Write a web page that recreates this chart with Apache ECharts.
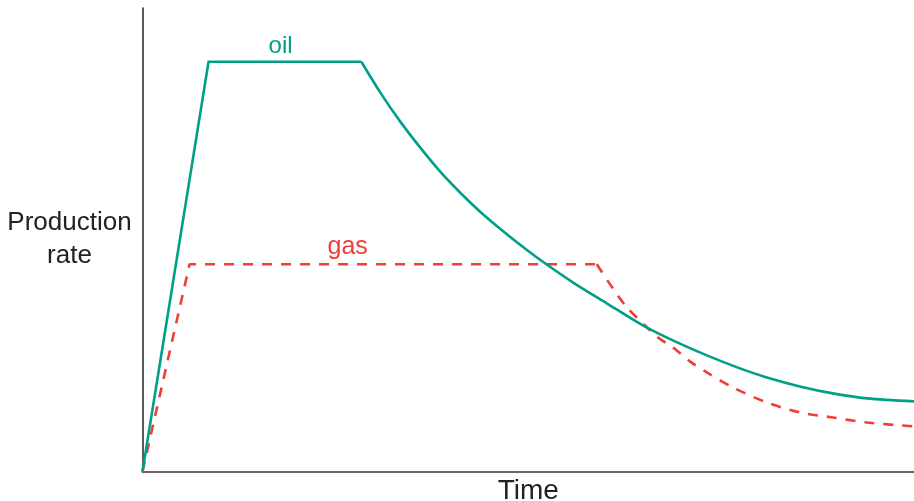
<!DOCTYPE html>
<html>
<head>
<meta charset="utf-8">
<script src="https://cdn.jsdelivr.net/npm/echarts@6/dist/echarts.min.js"></script>
<style>html,body{margin:0;padding:0;background:#fff}#c{width:914px;height:501px}</style>
</head>
<body>
<div id="c"></div>
<script>
// Time (0-100) and production rate (0-100)
// oil: ramp-up and plateau
const oilRiseTime = [0, 8.56, 28.37];
const oilRiseRate = [0, 88.4, 88.4];
// oil: decline
const oilDeclTime = [28.37, 30.87, 33.46, 36.06, 38.65, 41.25, 43.84, 46.43, 49.03, 51.62, 55.77, 60.18, 64.85, 68.74, 73.15, 77.43, 80.93, 85.21, 89.49, 93.90, 100];
const oilDeclRate = [88.4, 81.64, 75.38, 69.76, 64.58, 60.04, 55.94, 52.27, 48.81, 45.57, 40.82, 36.29, 31.53, 28.29, 25.05, 22.25, 20.30, 18.36, 16.85, 15.77, 15.12];
// gas: ramp-up and plateau
const gasRiseTime = [0, 6.10, 58.88];
const gasRiseRate = [0, 44.71, 44.71];
// gas: decline
const gasDeclTime = [58.88, 60.96, 62.78, 64.85, 66.80, 68.74, 70.95, 73.15, 76.52, 80.93, 85.21, 89.49, 93.90, 100];
const gasDeclRate = [44.71, 39.52, 35.42, 31.97, 28.94, 26.78, 23.76, 21.38, 18.14, 14.90, 12.74, 11.66, 10.58, 9.72];
const seriesNames = ['oil', 'gas'];
const labelAt = { oil: [17.9, 88.4], gas: [26.6, 44.71] };
const axisNames = { x: 'Time', y: 'Production\nrate' };

const OIL = '#00a088', GAS = '#ee3e36';
const zip = (a, b) => a.map((v, i) => [v, b[i]]);
const chart = echarts.init(document.getElementById('c'), null, { renderer: 'canvas' });
const font = 'Liberation Sans, Arial, sans-serif';
const oilStyle = { color: OIL, width: 2.6, join: 'miter' };
const gasStyle = { color: GAS, width: 2.6, type: [10, 9] };
chart.setOption({
  animation: false,
  grid: { left: 142.5, right: 0, top: 8, bottom: 29.5, containLabel: false, outerBoundsMode: 'none' },
  xAxis: {
    type: 'value', min: 0, max: 100,
    name: axisNames.x, nameLocation: 'middle', nameGap: 6,
    nameTextStyle: { fontSize: 28, color: '#222', fontFamily: font },
    axisLine: { show: true, lineStyle: { color: '#666', width: 2 } },
    axisTick: { show: false }, axisLabel: { show: false }, splitLine: { show: false }
  },
  yAxis: {
    type: 'value', min: 0, max: 100,
    name: axisNames.y, nameLocation: 'middle', nameRotate: 0, nameGap: 73,
    nameTextStyle: { fontSize: 26, color: '#222', fontFamily: font, align: 'center', lineHeight: 33, padding: [6, 0, 0, 0] },
    axisLine: { show: true, lineStyle: { color: '#222', width: 1.5 } },
    axisTick: { show: false }, axisLabel: { show: false }, splitLine: { show: false }
  },
  series: [
    { name: seriesNames[0], type: 'line', data: zip(oilRiseTime, oilRiseRate), symbol: 'none', lineStyle: oilStyle, z: 3 },
    { name: seriesNames[0], type: 'line', data: zip(oilDeclTime, oilDeclRate), symbol: 'none', smooth: 0.3, lineStyle: oilStyle, z: 3 },
    { name: seriesNames[1], type: 'line', data: zip(gasRiseTime, gasRiseRate), symbol: 'none', lineStyle: gasStyle, z: 2 },
    { name: seriesNames[1], type: 'line', data: zip(gasDeclTime, gasDeclRate), symbol: 'none', smooth: 0.3, lineStyle: gasStyle, z: 2 }
  ]
});
const po = chart.convertToPixel({ gridIndex: 0 }, labelAt.oil);
const pg = chart.convertToPixel({ gridIndex: 0 }, labelAt.gas);
chart.setOption({
  graphic: [
    { type: 'text', x: po[0], y: po[1] - 15, style: { text: seriesNames[0], fill: OIL, font: '24px ' + font, textAlign: 'center', textVerticalAlign: 'middle' } },
    { type: 'text', x: pg[0], y: pg[1] - 17, style: { text: seriesNames[1], fill: GAS, font: '25px ' + font, textAlign: 'center', textVerticalAlign: 'middle' } }
  ]
});
</script>
</body>
</html>
